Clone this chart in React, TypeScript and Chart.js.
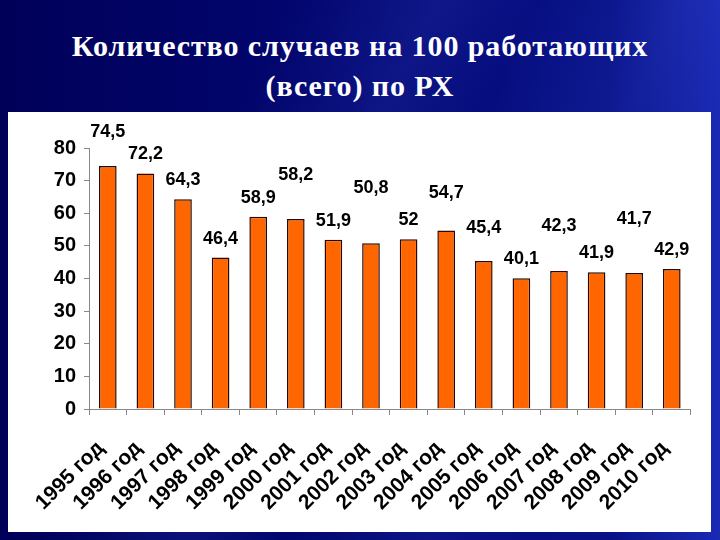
import React, { useEffect, useRef } from "react";
import { Chart, registerables } from "chart.js";

Chart.register(...registerables);

const TITLE_LINES = ["Количество случаев на 100 работающих", "(всего) по РХ"];
const YEARS = [
  "1995 год", "1996 год", "1997 год", "1998 год", "1999 год", "2000 год", "2001 год", "2002 год",
  "2003 год", "2004 год", "2005 год", "2006 год", "2007 год", "2008 год", "2009 год", "2010 год",
];
const CASES = [74.5, 72.2, 64.3, 46.4, 58.9, 58.2, 51.9, 50.8, 52, 54.7, 45.4, 40.1, 42.3, 41.9, 41.7, 42.9];
const VALUE_LABELS = ["74,5", "72,2", "64,3", "46,4", "58,9", "58,2", "51,9", "50,8", "52", "54,7", "45,4", "40,1", "42,3", "41,9", "41,7", "42,9"];
const Y_MIN = 0;
const Y_MAX = 80;
const Y_STEP = 10;

// extra lift (px) of individual value labels, as they were dragged in the original slide
const LABEL_LIFT = [15, 0, 0, 0, 0, 25, 0, 36, 0, 19, 14, 0, 26, 0, 35, 0];

const SANS = "'Liberation Sans', Arial, sans-serif";
const SERIF = "'Times New Roman', 'Liberation Serif', 'DejaVu Serif', serif";

const valueLabels = {
  id: "valueLabels",
  afterDatasetsDraw(chart: any) {
    const ctx = chart.ctx;
    const meta = chart.getDatasetMeta(0);
    ctx.save();
    ctx.font = `bold 18px ${SANS}`;
    ctx.fillStyle = "#000";
    ctx.textAlign = "center";
    ctx.textBaseline = "alphabetic";
    meta.data.forEach((bar: any, i: number) => {
      ctx.fillText(VALUE_LABELS[i], bar.x, bar.y - 14 - LABEL_LIFT[i]);
    });
    ctx.restore();
  },
};

export default function App() {
  const ref = useRef<HTMLCanvasElement | null>(null);

  useEffect(() => {
    document.body.style.margin = "0";
    const chart = new Chart(ref.current as HTMLCanvasElement, {
      type: "bar",
      data: {
        labels: YEARS,
        datasets: [
          {
            data: CASES,
            backgroundColor: "#ff6600",
            borderColor: "#2a0800",
            borderWidth: 1.5,
            barPercentage: 0.47,
            categoryPercentage: 1,
          },
        ],
      },
      options: {
        animation: false,
        responsive: false,
        maintainAspectRatio: false,
        layout: { padding: { top: 36, right: 13, left: 0, bottom: 0 } },
        plugins: { legend: { display: false }, tooltip: { enabled: false }, title: { display: false } },
        scales: {
          x: {
            afterFit: (s: any) => { s.height = 123; },
            grid: { drawOnChartArea: false, drawTicks: true, tickLength: 6, color: "#888", offset: true },
            border: { display: true, color: "#888", width: 1 },
            ticks: {
              autoSkip: false,
              maxRotation: 45,
              minRotation: 45,
              color: "#000",
              padding: 21,
              labelOffset: -7,
              font: { family: SANS, size: 21, weight: "bold" },
            },
          },
          y: {
            min: Y_MIN,
            max: Y_MAX,
            afterFit: (s: any) => { s.width = 81; },
            grid: { drawOnChartArea: false, drawTicks: true, tickLength: 5, color: "#888" },
            border: { display: true, color: "#888", width: 1 },
            ticks: {
              stepSize: Y_STEP,
              color: "#000",
              padding: 8,
              font: { family: SANS, size: 20, weight: "bold" },
            },
          },
        },
      },
      plugins: [valueLabels],
    });
    return () => chart.destroy();
  }, []);

  return (
    <div
      style={{
        position: "fixed",
        left: 0,
        top: 0,
        width: 720,
        height: 540,
        overflow: "hidden",
        background:
          "linear-gradient(115deg, rgba(255,255,255,0) 30%, rgba(70,90,220,0.16) 45%, rgba(255,255,255,0) 55%, rgba(70,90,220,0.13) 70%, rgba(255,255,255,0) 80%), linear-gradient(90deg, #000058 0%, #020670 45%, #081288 85%, #1a2ab4 100%)",
      }}
    >
      <div
        style={{
          position: "absolute",
          left: 0,
          top: 26,
          width: 720,
          textAlign: "center",
          fontFamily: SERIF,
          fontWeight: "bold",
          fontSize: 30,
          letterSpacing: "0.9px",
          lineHeight: "40px",
          color: "#fff",
        }}
      >
        {TITLE_LINES.map((t) => (
          <div key={t}>{t}</div>
        ))}
      </div>
      <div
        style={{
          position: "absolute",
          left: 8,
          top: 112,
          width: 703,
          height: 420,
          background: "#fff",
        }}
      >
        <canvas ref={ref} width={703} height={420} style={{ display: "block" }} />
      </div>
    </div>
  );
}
